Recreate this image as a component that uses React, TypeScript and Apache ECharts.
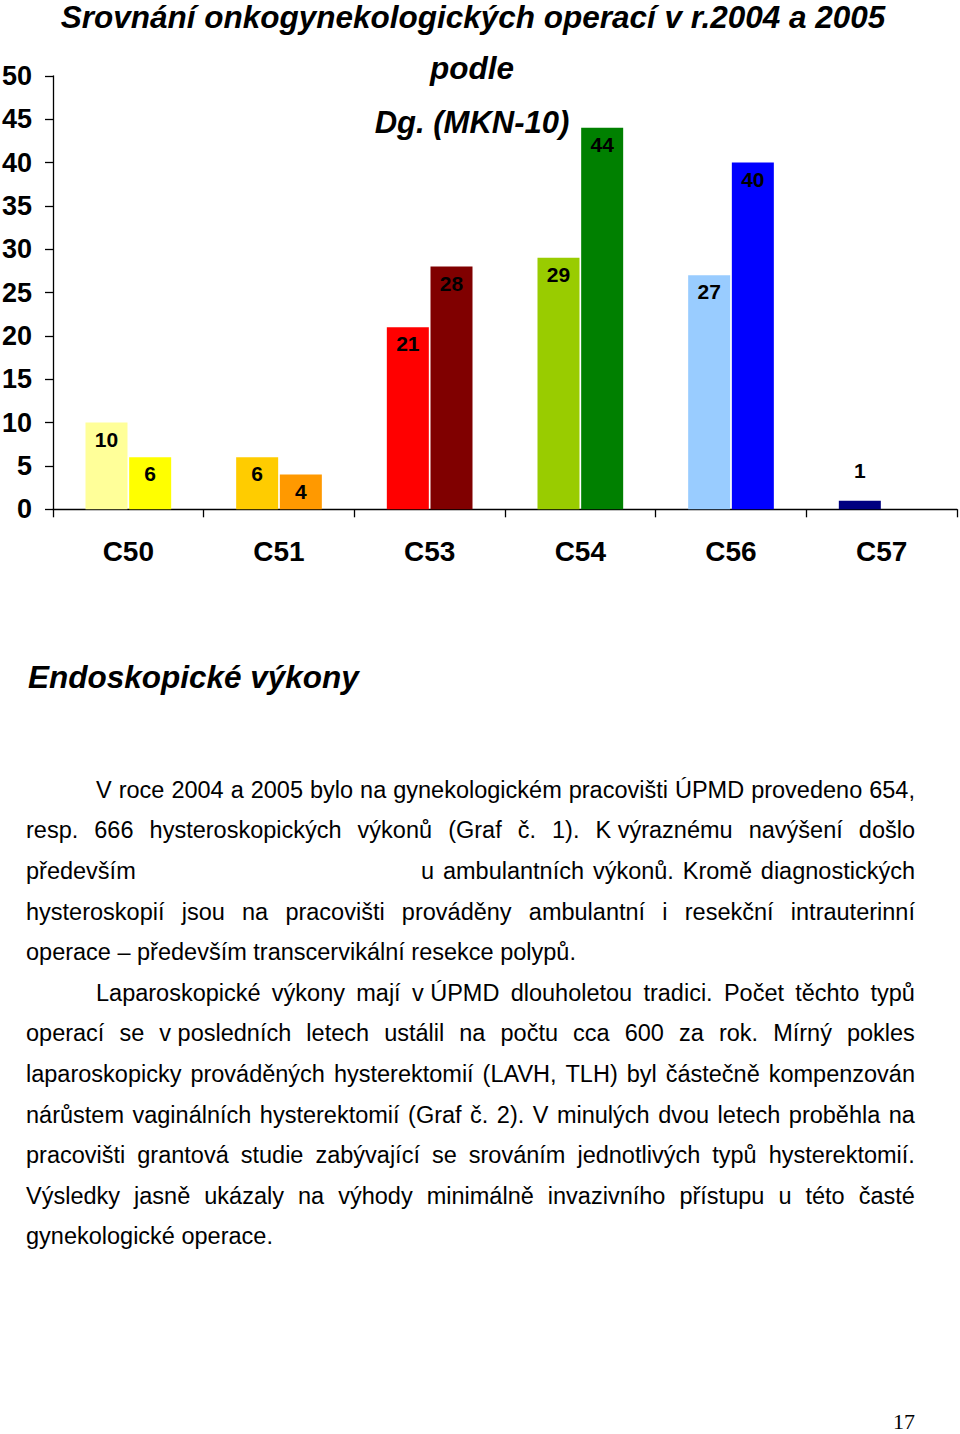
import React, { useEffect, useRef } from "react";
import * as echarts from "echarts";

const categories = ["C50", "C51", "C53", "C54", "C56", "C57"];
const values2004 = [10, 6, 21, 29, 27, 1];
const values2005: (number | null)[] = [6, 4, 28, 44, 40, null];
const colors2004 = ["#FFFF99", "#FFCC00", "#FF0000", "#99CC00", "#99CCFF", "#000080"];
const colors2005 = ["#FFFF00", "#FF9900", "#800000", "#008000", "#0000FF", "#000080"];
const yTicks = { min: 0, max: 50, interval: 5 };

const chartTitle = "Srovnání onkogynekologických operací v r.2004 a 2005";
const chartSub1 = "podle";
const chartSub2 = "Dg. (MKN-10)";
const sectionTitle = "Endoskopické výkony";
const pageNumber = "17";

// paragraph lines: [text, indent, justify]; "|" marks a wide tab gap
const textLines: [string, boolean, boolean][] = [
  ["V roce 2004 a 2005 bylo na gynekologickém pracovišti ÚPMD provedeno 654,", true, true],
  ["resp. 666 hysteroskopických výkonů (Graf č. 1). K\u00a0výraznému navýšení došlo", false, true],
  ["především|u ambulantních výkonů. Kromě diagnostických", false, true],
  ["hysteroskopií jsou na pracovišti prováděny ambulantní i resekční intrauterinní", false, true],
  ["operace – především transcervikální resekce polypů.", false, false],
  ["Laparoskopické výkony mají v\u00a0ÚPMD dlouholetou tradici. Počet těchto typů", true, true],
  ["operací se v\u00a0posledních letech ustálil na počtu cca 600 za rok. Mírný pokles", false, true],
  ["laparoskopicky prováděných hysterektomií (LAVH, TLH) byl částečně kompenzován", false, true],
  ["nárůstem vaginálních hysterektomií (Graf č. 2). V minulých dvou letech proběhla na", false, true],
  ["pracovišti grantová studie zabývající se srováním jednotlivých typů hysterektomií.", false, true],
  ["Výsledky jasně ukázaly na výhody minimálně invazivního přístupu u této časté", false, true],
  ["gynekologické operace.", false, false],
];

const FONT = "'Liberation Sans', Arial, sans-serif";

function JustLine({ text, left, right, top, h, fs, just }: any) {
  const words = text.split(" ");
  const base: React.CSSProperties = {
    position: "absolute",
    top,
    left,
    width: right - left,
    height: h,
    lineHeight: `${h}px`,
    fontFamily: FONT,
    fontSize: fs,
    color: "#000",
    whiteSpace: "pre",
  };
  if (!just) return <div style={base}>{text}</div>;
  return (
    <div style={{ ...base, display: "flex", justifyContent: "space-between" }}>
      {words.map((w: string, i: number) => (
        <span key={i} style={{ flex: "none" }}>{w}</span>
      ))}
    </div>
  );
}

export default function App() {
  const ref = useRef<HTMLDivElement>(null);
  useEffect(() => {
    document.body.style.margin = "0";
    const chart = echarts.init(ref.current!, null, { renderer: "svg" });
    const mk = (vals: (number | null)[], colors: string[], name: string) => ({
      type: "bar",
      name,
      barWidth: 42,
      barGap: "4%",
      data: vals.map((v, i) =>
        v == null
          ? null
          : {
              value: v,
              itemStyle: { color: colors[i] },
              label: v < 3 ? { position: "top", distance: 20 } : undefined,
            }
      ),
      label: {
        show: true,
        position: "insideTop",
        distance: 6,
        color: "#000",
        fontSize: 21,
        fontWeight: "bold",
        fontFamily: FONT,
      },
    });
    chart.setOption({
      animation: false,
      backgroundColor: "#fff",
      grid: {
        left: 53,
        right: 3,
        top: 75.8,
        bottom: 1434 - 509.3,
        containLabel: false,
        outerBoundsMode: "none",
      },
      xAxis: {
        type: "category",
        data: categories,
        axisLine: { lineStyle: { color: "#000", width: 1.3 } },
        axisTick: { show: true, length: 8, lineStyle: { color: "#000", width: 1.3 } },
        axisLabel: { color: "#000", fontSize: 28, fontWeight: "bold", fontFamily: FONT, margin: 28 },
      },
      yAxis: {
        type: "value",
        min: yTicks.min,
        max: yTicks.max,
        interval: yTicks.interval,
        splitLine: { show: false },
        axisLine: { show: true, lineStyle: { color: "#000", width: 1.3 } },
        axisTick: { show: true, length: 8, lineStyle: { color: "#000", width: 1.3 } },
        axisLabel: { color: "#000", fontSize: 27, fontWeight: "bold", fontFamily: FONT, margin: 21 },
      },
      series: [mk(values2004, colors2004, "2004"), mk(values2005, colors2005, "2005")],
      graphic: [
        {
          type: "text",
          style: {
            text: chartTitle,
            x: 473,
            y: 1,
            align: "center",
            verticalAlign: "top",
            font: `italic bold 31.5px ${FONT}`,
            fill: "#000",
          },
        },
        {
          type: "text",
          style: {
            text: chartSub1,
            x: 472,
            y: 68,
            align: "center",
            verticalAlign: "middle",
            font: `italic bold 31.5px ${FONT}`,
            fill: "#000",
            textShadowColor: "#777",
            textShadowOffsetX: 1,
            textShadowOffsetY: 2,
            textShadowBlur: 0,
          },
        },
        {
          type: "text",
          style: {
            text: chartSub2,
            x: 472,
            y: 122,
            align: "center",
            verticalAlign: "middle",
            font: `italic bold 31px ${FONT}`,
            fill: "#000",
            textShadowColor: "#777",
            textShadowOffsetX: 1,
            textShadowOffsetY: 2,
            textShadowBlur: 0,
          },
        },
        {
          type: "text",
          style: {
            text: sectionTitle,
            x: 28,
            y: 677,
            align: "left",
            verticalAlign: "middle",
            font: `italic bold 31.5px ${FONT}`,
            fill: "#000",
          },
        },
        {
          type: "text",
          style: {
            text: pageNumber,
            x: 915,
            y: 1421,
            align: "right",
            verticalAlign: "middle",
            font: `22px 'Liberation Serif', serif`,
            fill: "#000",
          },
        },
      ],
    });
    return () => chart.dispose();
  }, []);

  const lineH = 40.6;
  const top0 = 769.7;
  const fs = 23.5;
  return (
    <div style={{ position: "absolute", left: 0, top: 0, width: 960, height: 1434, background: "#fff" }}>
      <div ref={ref} style={{ position: "absolute", left: 0, top: 0, width: 960, height: 1434 }} />
      {textLines.map(([t, indent, just], i) => {
        const top = top0 + i * lineH;
        if (t.includes("|")) {
          const [a, b] = t.split("|");
          return (
            <React.Fragment key={i}>
              <JustLine text={a} left={26} right={300} top={top} h={lineH} fs={fs} just={false} />
              <JustLine text={b} left={421} right={915} top={top} h={lineH} fs={fs} just={true} />
            </React.Fragment>
          );
        }
        const left = indent ? 96 : 26;
        return <JustLine key={i} text={t} left={left} right={915} top={top} h={lineH} fs={fs} just={just} />;
      })}
    </div>
  );
}
